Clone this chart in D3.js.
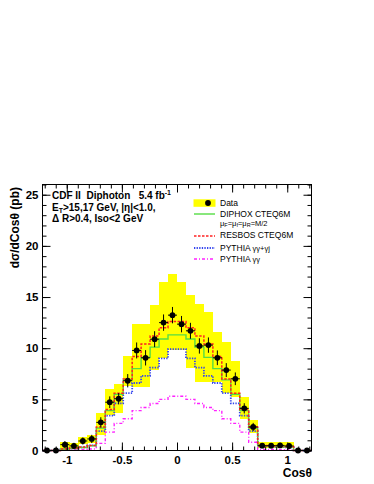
<!DOCTYPE html>
<html><head><meta charset="utf-8">
<script src="https://cdn.jsdelivr.net/npm/d3@7"></script>
<style>
body{margin:0;background:#fff}
svg{display:block}
text{font-family:"Liberation Sans",Arial,Helvetica,sans-serif}
</style>
</head><body>
<svg id="c" width="374" height="484"></svg>
<script>
// ---- data ----
const binCenters = [-1.179,-1.098,-1.017,-0.935,-0.854,-0.773,-0.691,-0.610,-0.529,-0.447,-0.366,-0.285,-0.203,-0.122,-0.041,
                     0.041, 0.122, 0.203, 0.285, 0.366, 0.447, 0.529, 0.610, 0.691, 0.773, 0.854, 0.935, 1.017, 1.098, 1.179];
const binWidth = 0.0813;
const dataValues = [0,0,0.57,0.45,0.93,1.13,2.75,4.72,5.06,6.82,9.78,9.06,10.88,12.5,13.23,12.35,11.7,10.22,10.3,9.06,7.86,7.01,4.12,2.3,0.47,0.47,0.5,0.44,0,0];
const dataErrors = [0,0,0.35,0.3,0.35,0.4,0.5,0.57,0.55,0.65,0.78,0.75,0.78,0.8,0.8,0.8,0.78,0.75,0.75,0.72,0.68,0.62,0.5,0.4,0.25,0.25,0.25,0.3,0,0];
const bandLow  = [0,0,0.15,0.2,0.6,0.75,1.5,3.5,3.65,6.3,6.2,6.2,7.9,9.0,9.8,9.8,8.1,6.7,6.7,6.7,5.6,5.26,3.07,1.7,0.2,0.2,0.2,0.2,0,0];
const bandHigh = [0,0,0.8,0.7,1.35,1.5,3.7,6.05,6.5,9.25,12.4,12.4,14.2,16.45,17.3,16.45,15.2,14.3,13.5,11.6,10.6,8.7,5.22,3.0,0.8,0.8,0.8,0.8,0,0];
const diphox   = [0,0,0.12,0.2,0.3,0.45,2.2,3.9,5.5,6.9,8.0,9.1,10.1,10.9,11.3,11.3,10.9,10.1,9.1,8.0,6.9,5.5,3.9,2.2,0.45,0.4,0.4,0.35,0,0];
const resbos   = [0,0,0.15,0.25,0.35,0.5,2.3,4.0,5.6,7.0,9.2,10.4,11.2,12.0,12.6,12.6,12.0,11.2,10.4,9.2,7.0,5.6,4.0,2.3,0.5,0.45,0.45,0.4,0,0];
const pythiaGJ = [0,0,0.1,0.2,0.3,0.5,1.9,3.4,4.6,5.6,6.6,7.3,8.1,9.0,9.9,9.9,9.0,8.1,7.3,6.6,5.6,4.6,3.4,1.9,0.45,0.4,0.35,0.3,0,0];
const pythiaGG = [0,0,0.05,0.08,0.1,0.15,0.7,1.8,2.65,3.1,3.9,4.2,4.6,5.0,5.3,5.3,5.0,4.6,4.2,3.9,3.1,2.65,1.8,0.8,0.1,0.1,0.08,0.05,0,0];
const xTickLabels = [-1,-0.5,0,0.5,1];
const yTickLabels = [0,5,10,15,20,25];
const xDomain = [-1.22,1.22];
const yDomain = [0,26];

// ---- drawing ----
const svg = d3.select("#c");
svg.append("rect").attr("width",374).attr("height",484).attr("fill","#fff");
const L=42.5, R=311.5, T=184.5, B=450.5;
const x = d3.scaleLinear().domain(xDomain).range([L,R]);
const y = d3.scaleLinear().domain(yDomain).range([B,T]);

// band
svg.append("g").selectAll("rect").data(binCenters.map((c,i)=>({c,lo:bandLow[i],hi:bandHigh[i]})).filter(d=>d.hi>d.lo))
  .join("rect")
  .attr("x",d=>x(d.c-binWidth/2)).attr("width",d=>x(d.c+binWidth/2)-x(d.c-binWidth/2)+0.3)
  .attr("y",d=>y(d.hi)).attr("height",d=>y(d.lo)-y(d.hi))
  .attr("fill","#ffff00").attr("shape-rendering","crispEdges");

function stepPts(vals){
  const pts=[];
  binCenters.forEach((c,i)=>{pts.push([c-binWidth/2,vals[i]]);pts.push([c+binWidth/2,vals[i]]);});
  return pts;
}
const line = d3.line().x(d=>x(d[0])).y(d=>y(d[1]));
const series = [
  {v:pythiaGG, color:"#ff22ff", dash:"3,2,1,2", w:1.4},
  {v:pythiaGJ, color:"#3344ee", dash:"1.3,1.3", w:1.8},
  {v:diphox,   color:"#55dd44", dash:null, w:1.4},
  {v:resbos,   color:"#ff2222", dash:"2.5,1.5", w:1.5}
];
series.forEach(s=>{
  svg.append("path").attr("d",line(stepPts(s.v))).attr("fill","none")
    .attr("stroke",s.color).attr("stroke-width",s.w).attr("stroke-dasharray",s.dash);
});

// data points
const pts = binCenters.map((c,i)=>({c,v:dataValues[i],e:dataErrors[i]}));
const gd = svg.append("g");
pts.forEach(d=>{
  if(d.e>0){
    gd.append("line").attr("x1",x(d.c)).attr("x2",x(d.c)).attr("y1",y(d.v-d.e)).attr("y2",y(d.v+d.e)).attr("stroke","#000").attr("stroke-width",1);
    gd.append("line").attr("x1",x(d.c-binWidth/2)).attr("x2",x(d.c+binWidth/2)).attr("y1",y(d.v)).attr("y2",y(d.v)).attr("stroke","#000").attr("stroke-width",1);
  }
  gd.append("circle").attr("cx",x(d.c)).attr("cy",y(d.v)).attr("r",2.9).attr("fill","#000");
});

// axes
function style(g){g.select(".domain").remove();g.selectAll("line").attr("stroke","#000");g.selectAll("text").attr("font-family","'Liberation Sans',Arial,sans-serif").attr("font-weight","bold").attr("font-size",11.5).attr("fill","#000");}
const minorX = d3.range(-12,13).map(i=>i/10);
const minorY = d3.range(0,27);
svg.append("g").attr("transform",`translate(0,${B})`).call(d3.axisBottom(x).tickValues(minorX).tickSize(-4).tickFormat("")).call(style);
svg.append("g").attr("transform",`translate(0,${B})`).call(d3.axisBottom(x).tickValues(xTickLabels).tickSize(-8).tickPadding(5).tickFormat(d=>String(d))).call(style);
svg.append("g").attr("transform",`translate(0,${T})`).call(d3.axisTop(x).tickValues(minorX).tickSize(-4).tickFormat("")).call(style);
svg.append("g").attr("transform",`translate(0,${T})`).call(d3.axisTop(x).tickValues(xTickLabels).tickSize(-8).tickFormat("")).call(style);
svg.append("g").attr("transform",`translate(${L},0)`).call(d3.axisLeft(y).tickValues(minorY).tickSize(-4).tickFormat("")).call(style);
svg.append("g").attr("transform",`translate(${L},0)`).call(d3.axisLeft(y).tickValues(yTickLabels).tickSize(-8).tickPadding(4).tickFormat(d=>String(d))).call(style);
svg.append("g").attr("transform",`translate(${R},0)`).call(d3.axisRight(y).tickValues(minorY).tickSize(-4).tickFormat("")).call(style);
svg.append("g").attr("transform",`translate(${R},0)`).call(d3.axisRight(y).tickValues(yTickLabels).tickSize(-8).tickFormat("")).call(style);
svg.append("rect").attr("x",L).attr("y",T).attr("width",R-L).attr("height",B-T).attr("fill","none").attr("stroke","#000").attr("stroke-width",1);

// axis titles
svg.append("text").attr("transform",`translate(19,187) rotate(-90)`).attr("text-anchor","end")
  .attr("font-weight","bold").attr("font-size",12).text("dσ/dCosθ (pb)");
svg.append("text").attr("x",312).attr("y",477).attr("text-anchor","end")
  .attr("font-weight","bold").attr("font-size",12).text("Cosθ");

// header text
const t1 = svg.append("text").attr("x",52).attr("y",199).attr("font-weight","bold").attr("font-size",10).style("white-space","pre");
t1.append("tspan").text("CDF II  Diphoton   5.4 fb");
t1.append("tspan").attr("dy",-4).attr("font-size",7).text("-1");
const t2 = svg.append("text").attr("x",52).attr("y",211).attr("font-weight","bold").attr("font-size",10);
t2.append("tspan").text("E");
t2.append("tspan").attr("dy",2).attr("font-size",7).text("T");
t2.append("tspan").attr("dy",-2).text(">15,17 GeV, |η|<1.0,");
svg.append("text").attr("x",52).attr("y",221.5).attr("font-weight","bold").attr("font-size",10).style("white-space","pre").text("Δ R>0.4, Iso<2 GeV");

// legend
const lg = svg.append("g");
lg.append("rect").attr("x",193.5).attr("y",199.3).attr("width",22).attr("height",7.5).attr("fill","#ffff00");
lg.append("circle").attr("cx",208).attr("cy",203).attr("r",2.9).attr("fill","#000");
const lx1=194, lx2=215, tx=220;
[[214,series[2]],[236,series[3]],[248,series[1]],[259,series[0]]].forEach(([yy,s])=>{
  lg.append("line").attr("x1",lx1).attr("x2",lx2).attr("y1",yy).attr("y2",yy).attr("stroke",s.color).attr("stroke-width",s.w).attr("stroke-dasharray",s.dash);
});
const fs=8.5;
lg.append("text").attr("x",tx).attr("y",205.8).attr("font-size",fs).text("Data");
lg.append("text").attr("x",tx).attr("y",217).attr("font-size",fs).text("DIPHOX CTEQ6M");
const mu = lg.append("text").attr("x",tx).attr("y",225.5).attr("font-size",7.5);
mu.append("tspan").text("μ");
mu.append("tspan").attr("dy",1.6).attr("font-size",5.5).text("F");
mu.append("tspan").attr("dy",-1.6).text("=μ");
mu.append("tspan").attr("dy",1.6).attr("font-size",5.5).text("f");
mu.append("tspan").attr("dy",-1.6).text("=μ");
mu.append("tspan").attr("dy",1.6).attr("font-size",5.5).text("R");
mu.append("tspan").attr("dy",-1.6).text("=M/2");
lg.append("text").attr("x",tx).attr("y",238.3).attr("font-size",fs).text("RESBOS CTEQ6M");
const p1 = lg.append("text").attr("x",tx).attr("y",250.5).attr("font-size",fs);
p1.append("tspan").text("PYTHIA ");
p1.append("tspan").attr("font-size",7.5).text("γγ+γj");
const p2 = lg.append("text").attr("x",tx).attr("y",261.5).attr("font-size",fs);
p2.append("tspan").text("PYTHIA ");
p2.append("tspan").attr("font-size",7.5).text("γγ");
</script>
</body></html>
